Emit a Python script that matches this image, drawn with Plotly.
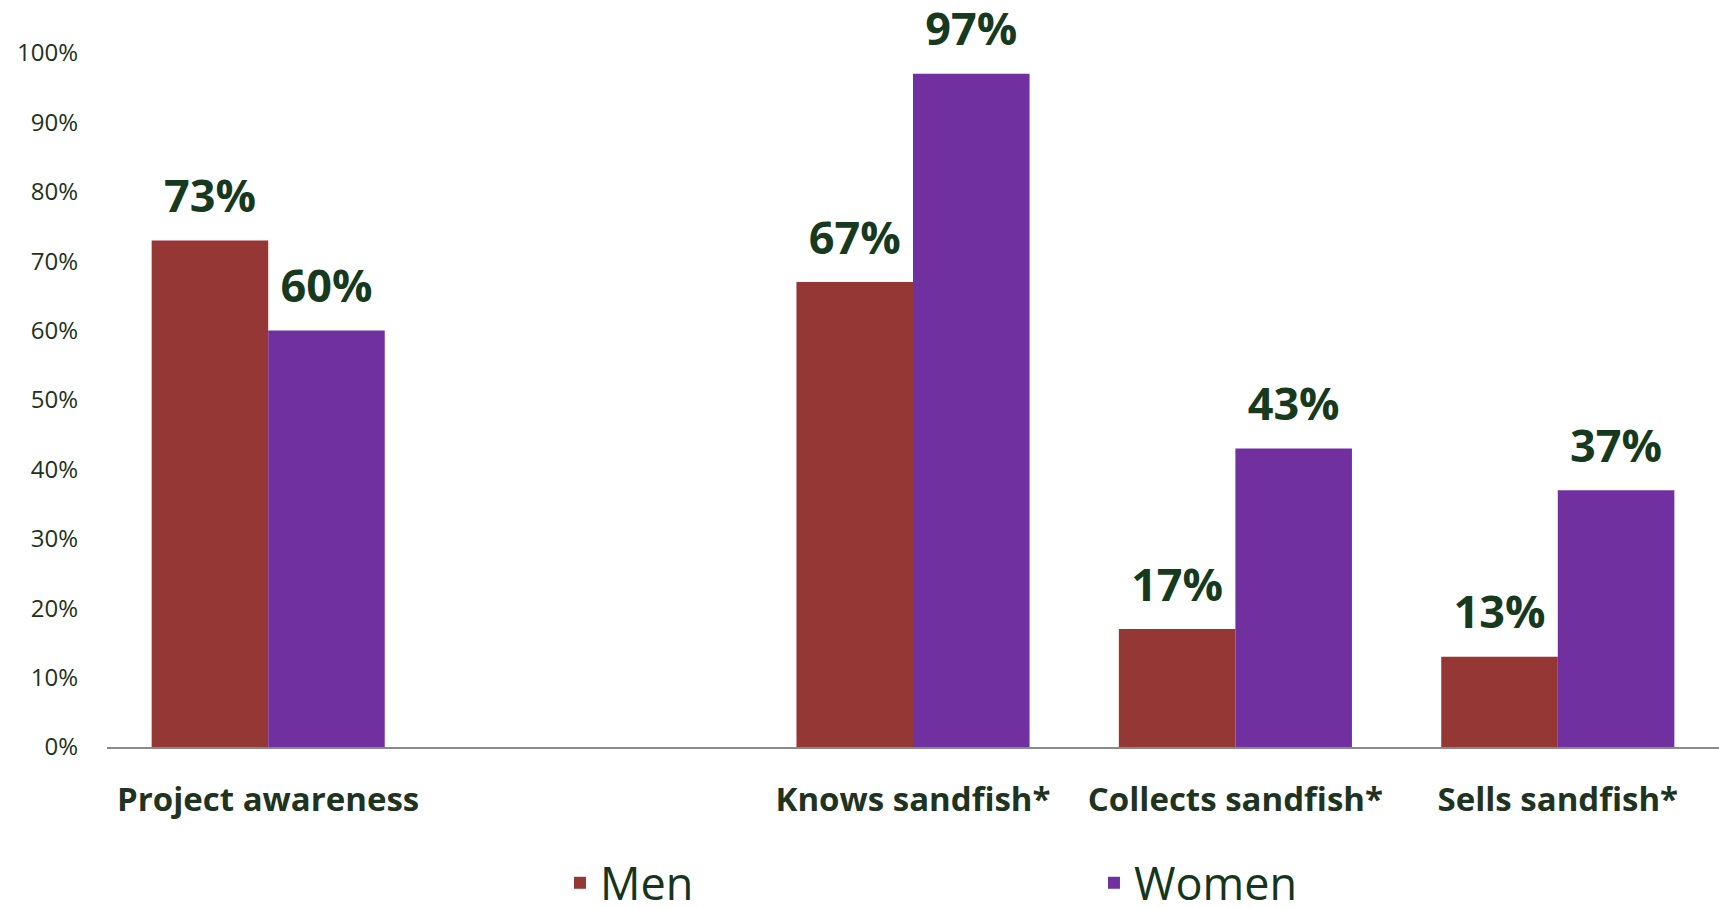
import plotly.graph_objects as go

categories = ["Project awareness", " ", "Knows sandfish*", "Collects sandfish*", "Sells sandfish*"]
men = [73, None, 67, 17, 13]
women = [60, None, 97, 43, 37]
y_ticks = [0, 10, 20, 30, 40, 50, 60, 70, 80, 90, 100]
y_tick_labels = [f"{v}%" for v in y_ticks]

MEN_COLOR = "#953735"
WOMEN_COLOR = "#7030A0"
TEXT_DARK = "#173a1e"
TICK_DARK = "#1e3320"
FONT = "Open Sans"
BARGAP = 0.277


def labels(vals):
    return [f"{v}%" if v is not None else "" for v in vals]


fig = go.Figure()
fig.add_trace(go.Bar(
    name="Men", x=categories, y=men, marker=dict(color=MEN_COLOR, line=dict(width=0)),
    hoverinfo="skip",
))
fig.add_trace(go.Bar(
    name="Women", x=categories, y=women, marker=dict(color=WOMEN_COLOR, line=dict(width=0)),
    hoverinfo="skip",
))
# value labels, grouped to sit over the matching bars
for vals in (men, women):
    fig.add_trace(go.Scatter(
        x=categories, y=vals, mode="markers+text", text=labels(vals),
        textposition="top center", cliponaxis=False, showlegend=False,
        marker=dict(size=26, opacity=0), hoverinfo="skip",
        textfont=dict(family=FONT, size=45, color=TEXT_DARK, weight="bold"),
    ))

fig.update_layout(
    width=1719, height=908,
    margin=dict(l=107, r=0, t=53, b=161, autoexpand=False),
    paper_bgcolor="white", plot_bgcolor="white",
    barmode="group", bargap=BARGAP, bargroupgap=0,
    scattermode="group", scattergap=BARGAP,
    font=dict(family=FONT, color=TICK_DARK),
    showlegend=True,
    legend=dict(
        orientation="h", x=0.281, xanchor="left", y=-0.196, yanchor="middle",
        font=dict(family=FONT, size=45, color="#15361a"),
        entrywidth=489, entrywidthmode="pixels",
        bgcolor="rgba(0,0,0,0)", itemclick=False,
    ),
)
fig.update_xaxes(
    type="category", showgrid=False, showline=True, linecolor="#8a8a8a", linewidth=2,
    ticks="", ticklabelstandoff=22,
    tickfont=dict(family=FONT, size=33, color=TICK_DARK, weight="bold"),
)
fig.update_yaxes(
    range=[0, 100], tickvals=y_ticks, ticktext=y_tick_labels, showgrid=False, zeroline=False,
    showline=False, ticks="", ticklabelstandoff=28,
    tickfont=dict(family=FONT, size=24, color=TICK_DARK),
)

fig.write_html("out.html")
